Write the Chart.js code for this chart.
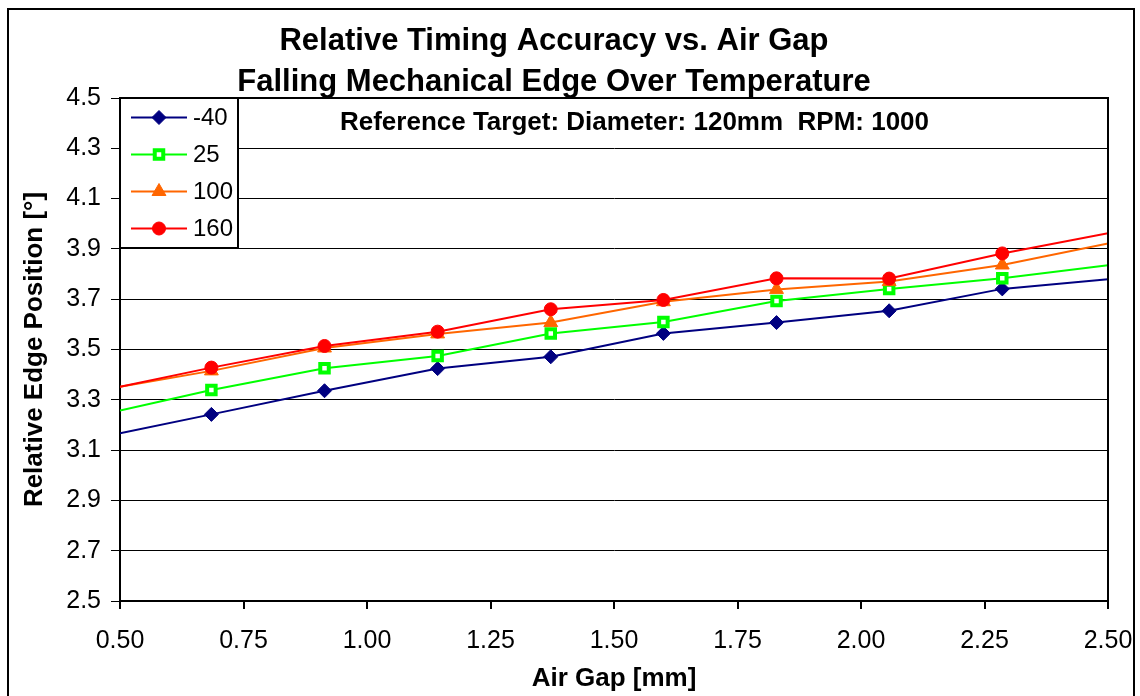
<!DOCTYPE html>
<html>
<head>
<meta charset="utf-8">
<script src="https://cdn.jsdelivr.net/npm/chart.js@4.4.1/dist/chart.umd.min.js"></script>
<style>
  html, body { margin: 0; padding: 0; background: #fff; overflow: hidden; }
  #wrap { position: relative; width: 1140px; height: 696px; overflow: hidden; }
  #frame { position: absolute; left: 7px; top: 8px; width: 1124px; height: 720px; border: 2px solid #000; }
  #myChart { position: absolute; left: 0; top: 0; }
</style>
</head>
<body>
<div id="wrap">
  <div id="frame"></div>
  <canvas id="myChart" width="1186" height="696"></canvas>
</div>
<script>
const ctx = document.getElementById("myChart").getContext("2d");

const title_lines = [
  "Relative Timing Accuracy vs. Air Gap",
  "Falling Mechanical Edge Over Temperature",
];
const sub_title = "Reference Target: Diameter: 120mm  RPM: 1000";
const x_title = "Air Gap [mm]";
const y_title = "Relative Edge Position [°]";

const temps = ["-40", "25", "100", "160"];

// first and last entries are where the lines leave the plot (no marker)
const air_gap = [0.5, 0.685, 0.914, 1.143, 1.372, 1.6, 1.829, 2.057, 2.286, 2.5];

const edge_m40 = [3.167, 3.242, 3.336, 3.424, 3.471, 3.564, 3.607, 3.654, 3.741, 3.779];
const edge_25 = [3.257, 3.339, 3.425, 3.474, 3.564, 3.609, 3.693, 3.741, 3.783, 3.835];
const edge_100 = [3.352, 3.415, 3.506, 3.562, 3.607, 3.69, 3.739, 3.77, 3.836, 3.922];
const edge_160 = [3.352, 3.428, 3.514, 3.571, 3.66, 3.697, 3.783, 3.782, 3.882, 3.962];

const x_ticks = [0.5, 0.75, 1.0, 1.25, 1.5, 1.75, 2.0, 2.25, 2.5];
const y_ticks = [2.5, 2.7, 2.9, 3.1, 3.3, 3.5, 3.7, 3.9, 4.1, 4.3, 4.5];

const font_family = "'Liberation Sans', Arial, sans-serif";
Chart.defaults.font.family = font_family;
Chart.defaults.color = "#000";

const styles = [
  { color: "#000080", fill: "#000080", shape: "rectRot", r: 7, bw: 1 },
  { color: "#00FF00", fill: "#FFFFFF", shape: "rect", r: 6, bw: 4 },
  { color: "#FF6600", fill: "#FF6600", shape: "triangle", r: 8, bw: 1 },
  { color: "#FF0000", fill: "#FF0000", shape: "circle", r: 6.5, bw: 1 },
];

const series = [edge_m40, edge_25, edge_100, edge_160];

const datasets = series.map((vals, i) => {
  const s = styles[i];
  return {
    label: temps[i],
    data: vals.map((v, j) => ({ x: air_gap[j], y: v })),
    borderColor: s.color,
    borderWidth: 2,
    tension: 0,
    pointStyle: s.shape,
    pointBackgroundColor: s.fill,
    pointBorderColor: s.color,
    pointBorderWidth: s.bw,
    pointRadius: (c) => (c.dataIndex === 0 || c.dataIndex === air_gap.length - 1 ? 0 : s.r),
    order: series.length - i,
  };
});

// plot frame, note text and the boxed legend in the top-left corner
const excel_look = {
  id: "excelLook",
  afterDraw(chart) {
    const c = chart.ctx;
    const a = chart.chartArea;
    c.save();
    c.strokeStyle = "#000";
    c.lineWidth = 2;
    c.beginPath();
    c.moveTo(a.left, a.top);
    c.lineTo(a.right, a.top);
    c.lineTo(a.right, a.bottom);
    c.stroke();

    c.fillStyle = "#000";
    c.font = "bold 26px " + font_family;
    c.textAlign = "center";
    c.textBaseline = "middle";
    c.fillText(sub_title, 634.5, 123);

    const bx = a.left, by = a.top, bw = 118, bh = 150;
    c.fillStyle = "#fff";
    c.fillRect(bx, by, bw, bh);
    c.strokeRect(bx, by, bw, bh);

    temps.forEach((t, i) => {
      const s = styles[i];
      const y = by + 19.5 + i * 37;
      c.strokeStyle = s.color;
      c.lineWidth = 2;
      c.beginPath();
      c.moveTo(bx + 11, y);
      c.lineTo(bx + 67, y);
      c.stroke();
      c.fillStyle = s.fill;
      c.lineWidth = s.bw;
      Chart.helpers.drawPoint(c, { pointStyle: s.shape, radius: s.r, borderWidth: s.bw, rotation: 0 }, bx + 39, y);
      c.fillStyle = "#000";
      c.font = "24px " + font_family;
      c.textAlign = "left";
      c.fillText(t, bx + 73, y + 1);
    });
    c.restore();
  },
};

const chart = new Chart(ctx, {
  type: "line",
  data: { datasets: datasets },
  options: {
    responsive: false,
    animation: false,
    devicePixelRatio: 1,
    layout: { padding: { top: 0, left: 0, right: 78, bottom: 0 } },
    plugins: {
      legend: { display: false },
      tooltip: { enabled: false },
      title: {
        display: true,
        text: title_lines,
        color: "#000",
        font: { size: 31, weight: "bold", lineHeight: "41px" },
        padding: { top: 21, bottom: -5 },
      },
    },
    scales: {
      x: {
        type: "linear",
        min: 0.5,
        max: 2.5,
        afterBuildTicks: (s) => {
          s.ticks = x_ticks.map((v) => ({ value: v }));
        },
        afterFit: (s) => {
          s.height = 95;
        },
        ticks: {
          autoSkip: false,
          maxRotation: 0,
          padding: 17,
          font: { size: 25 },
          color: "#000",
          callback: (v) => Number(v).toFixed(2),
        },
        grid: { drawOnChartArea: false, drawTicks: true, tickLength: 8, color: "#000", lineWidth: 2 },
        border: { display: true, color: "#000", width: 2 },
        title: {
          display: true,
          text: x_title,
          font: { size: 26, weight: "bold" },
          color: "#000",
          padding: { top: 0, bottom: 2 },
        },
      },
      y: {
        type: "linear",
        min: 2.5,
        max: 4.5,
        afterBuildTicks: (s) => {
          s.ticks = y_ticks.map((v) => ({ value: v }));
        },
        afterFit: (s) => {
          s.width = 120;
        },
        ticks: {
          autoSkip: false,
          padding: 10,
          font: { size: 25 },
          color: "#000",
          callback: (v) => Number(v).toFixed(1),
        },
        grid: { color: "#000", lineWidth: 1, tickLength: 9, drawTicks: true },
        border: { display: true, color: "#000", width: 2 },
        title: {
          display: true,
          text: y_title,
          font: { size: 26, weight: "bold" },
          color: "#000",
          padding: { top: 19, bottom: 0 },
        },
      },
    },
  },
  plugins: [excel_look],
});
</script>
</body>
</html>
